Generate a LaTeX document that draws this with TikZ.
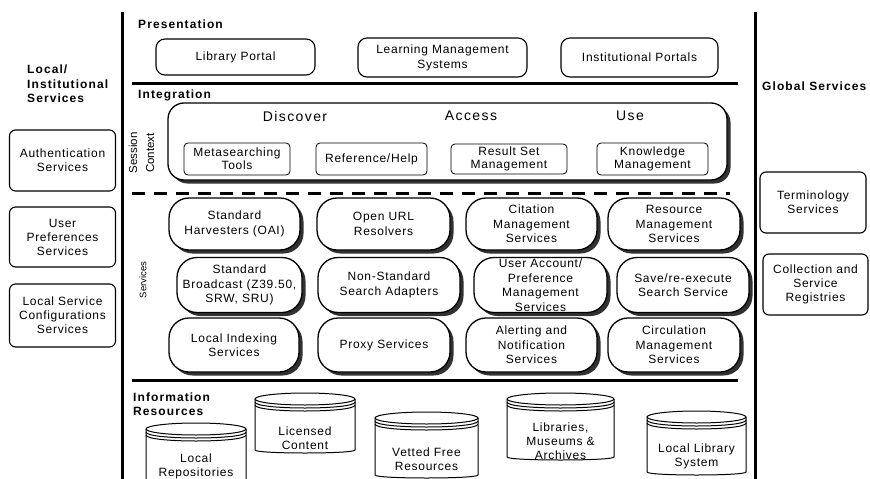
\documentclass[tikz,border=0pt]{standalone}
\usepackage{fontspec}
\setmainfont{Liberation Sans}[LetterSpace=6]
\newfontfamily\plainsans{Liberation Sans}
\newfontfamily\widesans{Liberation Sans}[LetterSpace=10]
\newfontfamily\headsans{Liberation Sans}[LetterSpace=9]
\usetikzlibrary{shadows}

\tikzset{
  base/.style={font=\fontsize{12}{14}\selectfont, align=center, inner sep=0pt},
  presbox/.style={base, draw, line width=1.1pt, rounded corners=9pt},
  sidebox/.style={base, draw, line width=1.1pt, rounded corners=6pt, minimum width=106pt},
  innerbox/.style={base, font=\fontsize{12}{13}\selectfont, draw, line width=0.8pt, rounded corners=4pt},
  darkshadow/.style={drop shadow={shadow xshift=3.5pt, shadow yshift=-3.5pt, opacity=0.95, fill=black!85}},
  pill/.style={base, font=\fontsize{12}{14.5}\selectfont, draw, line width=1.3pt, rounded corners=20pt, fill=white, darkshadow},
  sessbox/.style={draw, line width=1.3pt, rounded corners=16pt, fill=white, inner sep=0pt, darkshadow},
  heading/.style={font=\headsans\fontsize{12}{14.5}\bfseries\selectfont, inner sep=0pt, anchor=west, align=left},
  phase/.style={font=\widesans\fontsize{14}{16}\selectfont, inner sep=0pt},
  sidelabel/.style={font=\plainsans\fontsize{11.5}{17}\selectfont, rotate=90, align=center, inner sep=0pt},
  bigline/.style={line width=3pt},
  cylline/.style={line width=1pt},
  cyltext/.style={base, font=\fontsize{12}{14}\selectfont}
}

% #1 name, #2 left x, #3 right x, #4 top y, #5 bottom y, #6 text centre y, #7 text
\newcommand{\dbcyl}[7]{%
  \pgfmathsetmacro\cylcx{(#2+#3)/2}%
  \pgfmathsetmacro\cylrx{(#3-#2)/2}%
  \pgfmathsetmacro\cylya{#4+6}%
  \pgfmathsetmacro\cylyb{#4+9}%
  \pgfmathsetmacro\cylyc{#4+12}%
  \draw[cylline, fill=white] (#2,\cylya) -- (#2,#5-3)
     .. controls (#2,#5+1) and (#3,#5+1) .. (#3,#5-3) -- (#3,\cylya);
  \draw[cylline] (\cylcx,\cylya) ellipse [x radius=\cylrx, y radius=6];
  \draw[cylline] (#2,\cylyb) .. controls (#2,\cylyb+8) and (#3,\cylyb+8) .. (#3,\cylyb);
  \draw[cylline] (#2,\cylyc) .. controls (#2,\cylyc+8) and (#3,\cylyc+8) .. (#3,\cylyc);
  \node[cyltext] (#1) at (\cylcx,#6) {#7};
}

\begin{document}
\begin{tikzpicture}[x=1pt, y=-1pt]
\useasboundingbox (0,0) rectangle (870,479);

% frame lines
\draw[bigline] (122,12) -- (122,479);
\draw[bigline] (755,12) -- (755,479);
\draw[bigline] (132,83) -- (738,83);
\draw[bigline, dash pattern=on 13pt off 9pt] (132,193) -- (730,193);
\draw[bigline] (132,380) -- (738,380);

% headings
\node[heading] (hloc) at (27,84) {Local/\\Institutional\\Services};
\node[heading] (hglob) at (762,86) {Global Services};
\node[heading] (hpres) at (138,24) {Presentation};
\node[heading] (hint) at (138,95) {Integration};
\node[heading] (hinfo) at (133,404) {Information\\Resources};

% presentation
\node[presbox, minimum width=159pt, minimum height=36pt] (lp) at (235.5,57) {Library Portal};
\node[presbox, font=\fontsize{12}{15}\selectfont, minimum width=169pt, minimum height=39pt] (lms) at (442.5,57.5) {Learning Management\\Systems};
\node[presbox, minimum width=157pt, minimum height=39pt] (ip) at (639.5,57.5) {Institutional Portals};

% local services
\node[sidebox, minimum height=61pt] (auth) at (62.5,160.5) {Authentication\\Services};
\node[sidebox, minimum height=60pt] (upref) at (62.5,237) {User\\Preferences\\Services};
\node[sidebox, minimum height=63pt] (lsc) at (62.5,315.5) {Local Service\\Configurations\\Services};

% global services
\node[sidebox, minimum height=61pt] (term) at (813,202.5) {Terminology\\Services};
\node[sidebox, minimum width=105pt, minimum height=61pt] (coll) at (815.5,284.5) {Collection and\\Service\\Registries};

% integration
\node[sessbox, minimum width=559pt, minimum height=77pt] (sess) at (447.5,141.5) {};
\node[sidelabel] (sessctx) at (141.5,153) {Session\\Context};
\node[phase] (disc) at (295,116) {Discover};
\node[phase] (acc) at (471,116) {Access};
\node[phase] (use) at (630,116) {Use};
\node[innerbox, minimum width=106pt, minimum height=32pt] (meta) at (237,159) {Metasearching\\Tools};
\node[innerbox, minimum width=111pt, minimum height=32pt] (ref) at (371.5,159) {Reference/Help};
\node[innerbox, minimum width=116pt, minimum height=30pt] (rsm) at (509,159) {Result Set\\Management};
\node[innerbox, minimum width=111pt, minimum height=32pt] (km) at (652.5,159) {Knowledge\\Management};

% services
\node[font=\plainsans\fontsize{9.5}{11}\selectfont, rotate=90, inner sep=0pt] (svc) at (143,280) {Services};

\node[pill, minimum width=131pt, minimum height=52pt] (sh) at (234.5,224) {Standard\\Harvesters (OAI)};
\node[pill, minimum width=133pt, minimum height=52pt] (ou) at (383.5,224) {Open URL\\Resolvers};
\node[pill, minimum width=131pt, minimum height=52pt] (cm) at (531.5,224) {Citation\\Management\\Services};
\node[pill, minimum width=132pt, minimum height=52pt] (rm) at (674,224) {Resource\\Management\\Services};

\node[pill, minimum width=125pt, minimum height=55pt] (sb) at (239.5,285) {Standard\\Broadcast (Z39.50,\\SRW, SRU)};
\node[pill, minimum width=142pt, minimum height=55pt] (ns) at (389,285) {Non-Standard\\Search Adapters};
\node[pill, minimum width=133pt, minimum height=55pt] (ua) at (540.5,285) {User Account/\\Preference\\Management\\Services};
\node[pill, minimum width=132pt, minimum height=55pt] (sr) at (683,285) {Save/re-execute\\Search Service};

\node[pill, minimum width=130pt, minimum height=54pt] (li) at (234,345) {Local Indexing\\Services};
\node[pill, minimum width=132pt, minimum height=54pt] (ps) at (384,345) {Proxy Services};
\node[pill, minimum width=131pt, minimum height=54pt] (an) at (531.5,345) {Alerting and\\Notification\\Services};
\node[pill, minimum width=132pt, minimum height=54pt] (cms) at (674,345) {Circulation\\Management\\Services};

% information resources
\dbcyl{lr}{146}{246}{423}{484}{466}{Local\\Repositories}
\dbcyl{lc}{255}{355}{393}{453}{438}{Licensed\\Content}
\dbcyl{vf}{375}{478}{412}{478}{459.5}{Vetted Free\\Resources}
\dbcyl{lma}{507}{614}{393}{460}{441}{Libraries,\\Museums \&\\Archives}
\dbcyl{lls}{647}{746}{411}{475}{456}{Local Library\\System}
\end{tikzpicture}
\end{document}
